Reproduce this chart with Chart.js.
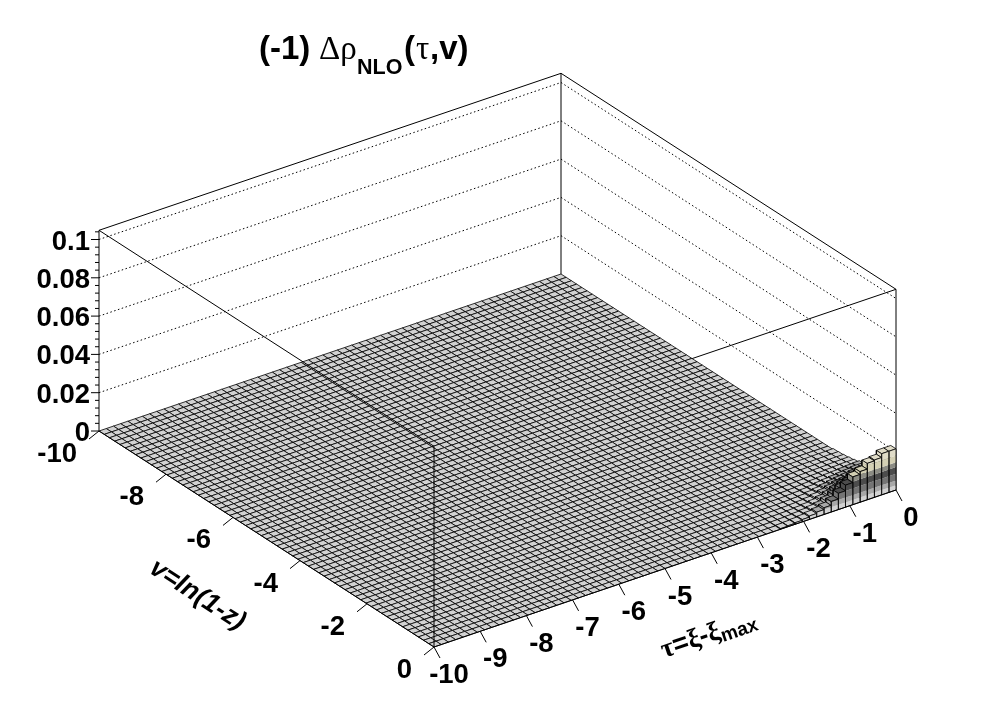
<!DOCTYPE html>
<html>
<head>
<meta charset="utf-8">
<style>html,body{margin:0;padding:0;background:#fff}canvas{display:block}</style>
<script src="https://cdn.jsdelivr.net/npm/chart.js@4"></script>
</head>
<body>
<canvas id="c" width="996" height="722"></canvas>
<script>
// ---- data ----
const tauBinCount = 64;
const vBinCount = 64;
const tauTicks = [-10,-9,-8,-7,-6,-5,-4,-3,-2,-1,0];
const vTicks = [-10,-8,-6,-4,-2,0];
const zTicks = [0,0.02,0.04,0.06,0.08,0.1];
const zTickLabels = ['0','0.02','0.04','0.06','0.08','0.1'];
const zTop = 0.1048;
// heights (x 0.001): rows go back from v = 0, columns go left from tau = 0; every other bin is 0
const bumpRow0  = [21.5,21.5,19.5,19,16,14.5,11.5,8.5,5.5,3.5,2.5,1.8,1.2,0.8,0.5,0.3];
const bumpRow1  = [15,15,13.5,13,11,10,8,6,4,2.5,1.8,1.2,0.8,0.5,0.3,0.2];
const bumpRow2  = [11,10.5,10,9,8,7,5.5,4,2.8,1.8,1.2,0.8,0.5,0.3,0.2,0.1];
const bumpRow3  = [8,7.5,7,6.5,5.5,5,4,3,2,1.2,0.8,0.5,0.3,0.2,0.1,0.1];
const bumpRow4  = [5.5,5.5,5,4.5,4,3.5,2.8,2,1.4,0.8,0.5,0.3,0.2,0.1,0.1];
const bumpRow5  = [4,4,3.5,3.2,2.8,2.4,2,1.4,1,0.6,0.4,0.2,0.1,0.1];
const bumpRow6  = [3,2.8,2.5,2.2,2,1.7,1.4,1,0.7,0.4,0.2,0.1,0.1];
const bumpRow7  = [2,2,1.8,1.6,1.4,1.2,1,0.7,0.5,0.3,0.2,0.1];
const bumpRow8  = [1.5,1.4,1.3,1.1,1,0.8,0.7,0.5,0.3,0.2,0.1];
const bumpRow9  = [1,1,0.9,0.8,0.7,0.6,0.5,0.3,0.2,0.1];
const bumpRow10 = [0.7,0.7,0.6,0.5,0.5,0.4,0.3,0.2,0.1];
const bumpRow11 = [0.5,0.4,0.4,0.3,0.3,0.2,0.2,0.1];
const bumpRows = [bumpRow0,bumpRow1,bumpRow2,bumpRow3,bumpRow4,bumpRow5,bumpRow6,bumpRow7,bumpRow8,bumpRow9,bumpRow10,bumpRow11];
// colour levels of the lego (x 0.001)
const bandEdges = [0,2.5,5,8.5,12,14.5,18,100];
const bandColors = ['#d2d2d2','#a8a8a8','#747474','#4c4c4c','#8c8c84','#d4d0b4','#e0dcc8'];

// ---- oblique view ----
const view = {cx:434, cy:647, tx:46.2, ty:-15.7, vx:-33.5, vy:-21.6, zy:1915};
function Pfix(tau, v, z){
  return {x: view.cx + (tau+10)*view.tx + (-v)*view.vx,
          y: view.cy + (tau+10)*view.ty + (-v)*view.vy - z*view.zy};
}
const drawList = [];
function add(pts, o){
  o = o || {};
  drawList.push({
    data: pts, showLine:true, pointRadius:0, pointHoverRadius:0, tension:0,
    borderColor: o.stroke || 'rgba(0,0,0,0)', borderWidth: o.stroke ? (o.width||1) : 0,
    borderDash: o.dash || [], backgroundColor: o.fill || 'rgba(0,0,0,0)',
    fill: o.fill ? 'shape' : false, borderJoinStyle:'miter', borderCapStyle:'butt'
  });
}
function seg(a,b,o){ add([a,b], Object.assign({stroke:'#000'},o||{})); }
const dt = 10/tauBinCount, dv = 10/vBinCount;
function height(i, j){ // i: tau bin from the right, j: v bin from the front
  if (j<0 || i<0) return 0;
  const r = bumpRows[j];
  if (!r || r[i]===undefined) return 0;
  return r[i];
}
function bandOf(h){ for(let k=0;k<bandColors.length;k++){ if(h<bandEdges[k+1]) return k; } return bandColors.length-1; }

// back walls
const dotted = {stroke:'#000', dash:[1.5,2.5]};
zTicks.slice(1).forEach(z=>{
  seg(Pfix(-10,-10,z), Pfix(0,-10,z), dotted);
  seg(Pfix(0,-10,z), Pfix(0,0,z), dotted);
});
// frame behind the surface
seg(Pfix(-10,-10,zTop), Pfix(0,-10,zTop));
seg(Pfix(0,-10,zTop), Pfix(0,0,zTop));
seg(Pfix(0,-10,0), Pfix(0,-10,zTop));
seg(Pfix(0,0,0), Pfix(0,0,zTop));
seg(Pfix(-10,-10,0), Pfix(-10,-10,zTop));
seg(Pfix(-10,0,zTop), Pfix(0,0,zTop));

// lego, far to near
function face(a0,a1,zlo,zhi){
  for(let k=0;k<bandColors.length;k++){
    const lo=Math.max(zlo,bandEdges[k]), hi=Math.min(zhi,bandEdges[k+1]);
    if(hi>lo){
      add([Pfix(a0.t,a0.v,lo/1000),Pfix(a1.t,a1.v,lo/1000),Pfix(a1.t,a1.v,hi/1000),Pfix(a0.t,a0.v,hi/1000)],{fill:bandColors[k]});
    }
  }
  const q=[Pfix(a0.t,a0.v,zlo/1000),Pfix(a1.t,a1.v,zlo/1000),Pfix(a1.t,a1.v,zhi/1000),Pfix(a0.t,a0.v,zhi/1000)];
  add(q.concat([q[0]]),{stroke:'#000',width:0.8});
}
for(let j=vBinCount-1;j>=0;j--){          // far (v=-10) to near (v=0)
  for(let i=0;i<tauBinCount;i++){         // far (tau=0) to near (tau=-10)
    const t1=-i*dt, t0=-(i+1)*dt, v1=-j*dv, v0=-(j+1)*dv;
    const h=height(i,j), hz=h/1000;
    const q=[Pfix(t1,v0,hz),Pfix(t1,v1,hz),Pfix(t0,v1,hz),Pfix(t0,v0,hz)];
    add(q.concat([q[0]]),{fill:bandColors[bandOf(h)],stroke:'#000',width:0.8});
    const hf=height(i,j-1);
    if(h>hf) face({t:t0,v:v1},{t:t1,v:v1},hf,h);
    const hl=height(i+1,j);
    if(h>hl) face({t:t0,v:v0},{t:t0,v:v1},hl,h);
  }
}
// frame in front of the surface
seg(Pfix(-10,-10,zTop), Pfix(-10,0,zTop));
seg(Pfix(-10,0,0), Pfix(-10,0,zTop));
seg(Pfix(-10,-10,0), Pfix(-10,0,0));
seg(Pfix(-10,0,0), Pfix(0,0,0));

// axis ticks
const tickTau={x:6,y:11}, tickV={x:-10,y:8};
tauTicks.forEach(t=>{const p=Pfix(t,0,0); seg(p,{x:p.x+tickTau.x,y:p.y+tickTau.y});});
vTicks.forEach(v=>{const p=Pfix(-10,v,0); seg(p,{x:p.x+tickV.x,y:p.y+tickV.y});});
for(let n=0;n<=26;n++){
  const z=n*0.004, p=Pfix(-10,-10,z), len=(n%5===0)?8:4;
  seg(p,{x:p.x-len,y:p.y});
}

const SANS='"Liberation Sans"', SERIF='"Liberation Serif"';
const textPlugin={
  id:'labels',
  afterDraw(chart){
    const ctx=chart.ctx, sx=chart.scales.x, sy=chart.scales.y;
    const px=p=>({x:sx.getPixelForValue(p.x),y:sy.getPixelForValue(p.y)});
    ctx.save();
    ctx.fillStyle='#000';
    ctx.textBaseline='alphabetic';
    ctx.font='bold 27.5px '+SANS;
    ctx.textAlign='right';
    zTicks.forEach((z,k)=>{const p=px(Pfix(-10,-10,z)); ctx.fillText(zTickLabels[k],p.x-9,p.y+10);});
    vTicks.forEach(v=>{const p=px(Pfix(-10,v,0)); ctx.fillText(String(v),p.x-22,p.y+31);});
    ctx.textAlign='center';
    tauTicks.forEach(t=>{const p=px(Pfix(t,0,0)); ctx.fillText(String(t),p.x+15,p.y+36);});
    ctx.textAlign='left';
    // title
    const run=(s,x,y,f)=>{ctx.font=f;ctx.fillText(s,x,y);};
    run('(-1)',259,59,'bold 33px '+SANS);
    run('\u0394\u03C1',319,59,'33px '+SERIF);
    run('NLO',357,74,'bold 21.5px '+SANS);
    run('(',404,59,'bold 33px '+SANS);
    run('\u03C4',416,59,'33px '+SERIF);
    run(',v)',430,59,'bold 33px '+SANS);
    // v axis title
    ctx.save();
    ctx.translate(148,572); ctx.rotate(Math.atan2(216,335));
    run('v=ln(1-z)',0,0,'italic bold 26.5px '+SANS);
    ctx.restore();
    // tau axis title
    ctx.save();
    ctx.translate(664,658); ctx.rotate(Math.atan2(-158,462));
    let x=0;
    const piece=(s,f,dy)=>{ctx.font=f;ctx.fillText(s,x,dy||0);x+=ctx.measureText(s).width;};
    piece('\u03C4','bold 27px '+SERIF);
    piece('=','bold 27px '+SANS);
    piece('\u03BE','bold 27px '+SERIF);
    piece('-','bold 27px '+SANS);
    piece('\u03BE','bold 27px '+SERIF);
    piece('max','bold 19px '+SANS,4);
    ctx.restore();
    ctx.restore();
  }
};

new Chart(document.getElementById('c'),{
  type:'scatter',
  data:{datasets:drawList.slice().reverse()},
  options:{
    responsive:false, animation:false, events:[], normalized:true, parsing:false,
    layout:{padding:0},
    plugins:{legend:{display:false},tooltip:{enabled:false},title:{display:false}},
    scales:{
      x:{type:'linear',min:0,max:996,display:false},
      y:{type:'linear',min:0,max:722,reverse:true,display:false}
    }
  },
  plugins:[textPlugin]
});
</script>
</body>
</html>
